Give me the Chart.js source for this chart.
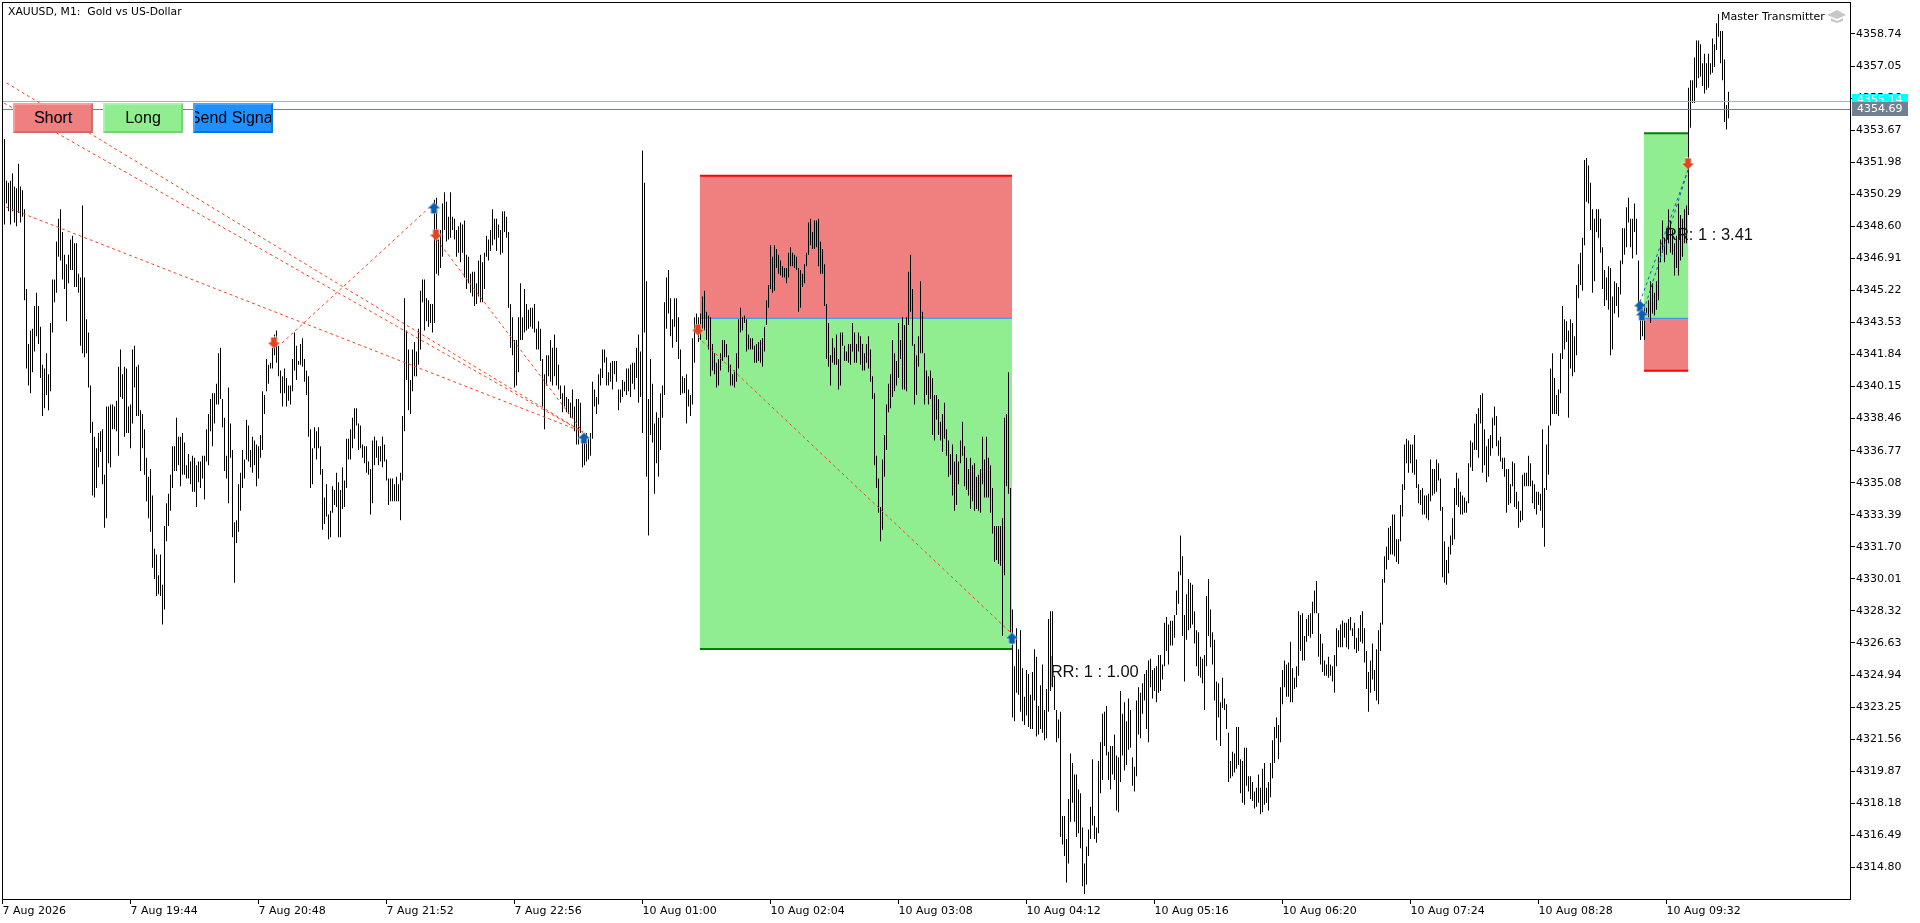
<!DOCTYPE html>
<html lang="en">
<head>
  <meta charset="UTF-8">
  <title>XAUUSD, M1</title>
  <script src="https://cdn.jsdelivr.net/npm/chart.js"></script>
  <style>
    html, body { margin: 0; padding: 0; background: #fff; overflow: hidden; }
    #grafico { position: absolute; left: 0; top: 0; }
    .btn {
      position: absolute; top: 103px; width: 80px; height: 30px; box-sizing: border-box;
      border-style: solid; border-width: 2px; overflow: hidden; white-space: nowrap;
      font: 16px/26px "Liberation Sans", Arial, sans-serif; color: #000;
      display: flex; justify-content: center;
    }
    #btnShort { left: 13px; background: #f08080; border-color: #ff9c9c #d86868 #d86868 #ff9c9c; }
    #btnLong { left: 103px; background: #90ee90; border-color: #a8f4a8 #74d474 #74d474 #a8f4a8; }
    #btnSend { left: 193px; background: #1e90ff; border-color: #4aa6ff #0078e8 #0078e8 #4aa6ff; }
  </style>
</head>
<body>
  <canvas id="grafico" width="1920" height="923"></canvas>
  <div class="btn" id="btnShort">Short</div>
  <div class="btn" id="btnLong">Long</div>
  <div class="btn" id="btnSend">Send Signal</div>

  <script>
    // precios, menos priceBase. un valor por vela M1
    const priceBase = 4300;
    const highs = [
      53.2,51.0,50.9,51.0,51.4,50.7,50.6,51.9,50.7,50.5,
      49.5,45.3,42.4,43.1,43.2,44.4,45.1,44.4,43.3,41.3,
      41.1,41.9,40.8,43.5,45.8,45.8,47.8,49.0,49.5,48.3,
      47.1,46.6,47.1,47.9,48.1,47.7,47.7,46.1,45.9,49.7,
      45.9,43.7,43.0,40.2,38.3,37.5,36.9,37.7,37.8,37.9,
      35.5,39.1,39.1,39.2,39.2,39.1,39.4,41.2,42.1,40.8,
      41.2,41.1,39.1,39.2,42.1,42.3,41.2,41.3,38.9,38.7,
      37.9,36.4,35.4,35.8,34.4,31.6,31.3,30.2,31.3,29.7,
      32.8,34.0,34.5,35.5,37.0,37.0,38.5,37.5,37.5,37.7,
      37.2,36.0,36.6,36.2,36.5,36.4,36.0,36.2,36.2,36.5,
      36.5,37.9,38.7,39.5,39.8,39.8,40.3,41.9,42.2,39.5,
      38.5,36.5,40.1,38.2,36.8,33.0,33.1,35.0,35.6,36.8,
      36.3,38.4,38.1,36.8,37.5,37.3,37.1,37.0,37.6,39.9,
      39.7,41.6,41.3,41.4,42.2,42.9,43.1,42.3,41.0,40.7,
      41.1,40.6,40.2,40.2,41.6,43.0,42.3,41.5,42.4,42.7,
      41.6,41.0,40.7,37.9,36.9,38.0,37.8,38.0,37.0,35.8,
      34.3,35.0,33.4,33.6,34.9,34.7,35.6,35.1,34.7,35.9,
      35.2,37.4,37.4,37.9,38.5,39.0,39.0,38.2,
      38.1,37.1,37.0,37.0,36.2,35.8,37.3,37.5,37.3,37.0,
      37.0,37.5,37.1,36.3,35.3,35.3,35.3,35.0,35.4,35.0,
      35.6,38.6,44.8,43.1,42.1,40.5,42.1,42.5,42.0,43.2,
      45.2,45.8,45.8,44.8,44.7,44.5,44.5,50.0,50.1,47.9,
      48.4,49.8,50.4,49.9,49.1,50.4,49.1,49.0,48.4,48.6,
      48.8,48.7,48.9,47.1,47.0,46.1,46.2,46.2,45.6,46.8,
      47.1,46.7,47.2,48.1,47.9,48.4,49.5,49.0,49.0,48.7,
      48.4,49.4,49.4,49.1,48.3,44.5,43.8,42.6,42.6,43.8,
      45.6,43.8,45.3,44.5,44.2,44.3,44.3,44.5,43.2,43.6,
      43.2,41.6,40.8,41.8,41.8,42.6,42.2,42.9,42.2,41.3,
      40.2,39.8,40.2,39.6,39.5,39.3,40.0,39.1,39.5,39.5,
      39.3,37.2,37.6,37.7,37.4,37.7,40.4,40.0,39.6,40.8,
      41.1,42.1,42.1,41.7,40.9,41.4,41.5,41.5,41.5,40.0,
      40.0,40.5,40.4,41.1,41.1,41.3,41.4,41.4,42.2,42.9,
      42.0,52.6,50.9,45.7,39.5,41.6,40.3,38.2,38.8,38.5,
      39.8,40.2,44.6,45.9,46.3,44.8,43.7,44.8,44.8,43.8,
      42.1,40.7,40.6,40.8,40.0,39.7,42.7,43.8,44.0,43.8,
      44.0,44.9,45.2,44.1,43.9,43.8,42.4,41.9,41.4,41.6,
      41.9,42.6,42.6,42.4,41.8,41.3,40.8,41.0,41.9,43.7,
      44.3,43.8,43.9,43.7,42.9,42.7,42.7,42.3,42.4,42.5,
      42.6,42.7,43.3,44.7,45.5,47.6,47.0,47.6,47.4,47.1,
      46.8,46.5,46.4,46.4,47.2,47.5,47.2,47.1,47.0,46.4,
      46.3,46.1,46.6,47.2,48.8,49.0,48.3,48.9,48.9,49.0,
      47.8,47.4,46.6,44.5,43.5,41.8,42.7,42.2,42.9,41.6,
      43.0,43.0,42.3,42.0,42.4,42.4,43.5,43.0,42.4,43.0,
      42.8,42.4,41.9,42.4,42.8,42.1,40.7,
      39.8,36.5,35.3,33.8,36.3,37.6,39.2,40.3,40.8,42.6,41.9,41.5,43.5,
      42.6,43.8,43.4,43.8,46.2,47.1,45.3,42.4,41.8,42.8,45.7,44.1,41.9,
      41.0,40.7,41.0,40.6,39.7,39.7,39.5,38.3,38.7,39.3,
      37.9,37.3,36.6,37.1,36.2,36.6,36.2,37.3,38.3,37.0,
      36.4,35.8,36.4,36.0,36.1,35.4,35.5,35.8,37.5,36.3,
      37.5,36.4,36.0,34.8,32.8,32.8,32.8,32.8,33.2,38.5,
      38.7,40.9,34.8,
      28.4,25.4,27.4,26.3,27.3,25.3,23.8,25.2,25.0,23.9,
      25.1,26.3,25.9,23.3,24.4,25.5,23.1,24.2,27.9,28.3,
      28.3,24.9,23.1,22.6,23.0,17.5,17.5,16.3,18.4,20.8,
      20.3,19.7,19.7,18.9,18.7,16.9,15.0,15.9,16.8,18.0,
      20.5,17.5,16.9,20.4,21.4,22.9,23.0,23.3,20.9,21.2,
      21.2,21.8,20.7,20.6,24.1,22.9,23.5,22.5,23.7,23.1,
      20.6,20.1,23.6,24.3,24.0,24.5,25.0,25.2,25.7,25.8,
      25.2,25.3,25.4,26.0,26.0,25.5,27.7,28.0,27.6,27.8,
      27.8,28.1,29.4,30.4,32.3,31.2,28.1,29.2,30.0,29.8,
      29.7,28.3,27.3,27.2,25.9,25.8,26.0,29.1,30.0,28.4,
      27.2,26.8,24.6,24.5,23.5,24.8,23.7,23.4,21.9,20.4,
      20.9,20.8,22.2,22.2,20.5,20.4,21.1,21.1,19.6,19.6,
      19.3,18.8,19.0,19.7,19.0,20.0,20.3,19.0,19.3,20.3,
      21.5,22.2,22.7,22.3,24.3,25.2,25.7,25.5,25.6,26.7,
      25.3,24.8,25.4,28.3,28.1,28.2,27.0,27.9,28.1,28.2,
      28.8,29.4,29.9,28.2,27.1,26.6,25.7,25.5,25.9,25.5,
      25.4,26.0,27.4,27.3,27.6,27.8,27.7,27.7,27.9,28.0,
      27.4,27.7,26.9,27.4,28.1,28.3,27.4,26.2,25.1,25.7,
      26.6,25.2,26.3,27.3,27.7,30.0,
      31.2,31.7,32.7,32.8,33.4,33.4,32.1,32.1,33.9,35.0,
      37.1,37.4,37.3,37.1,37.1,37.6,36.3,35.0,34.7,34.8,
      34.4,34.4,34.5,36.3,35.8,35.8,36.3,36.1,35.3,33.8,
      32.0,31.0,31.7,32.3,33.2,34.8,35.6,35.3,34.6,34.4,
      34.3,34.1,36.1,37.3,37.2,38.2,38.7,39.0,39.7,39.8,
      37.9,37.0,37.4,37.6,38.5,39.1,38.6,37.3,37.5,36.4,
      36.4,35.8,35.8,35.0,36.2,36.1,34.6,34.1,33.6,35.5,
      35.6,35.6,36.5,36.1,35.2,35.0,34.6,34.6,34.5,37.9,
      34.8,37.1,38.1,
      41.1,41.9,40.6,39.7,40.0,41.9,44.4,43.7,43.6,43.1,
      43.7,43.5,42.8,45.5,46.6,47.2,48.0,52.1,52.2,51.8,
      50.9,49.5,49.0,49.5,49.5,49.0,47.5,46.3,45.9,46.5,
      46.4,44.9,45.7,45.6,45.4,46.8,48.5,48.5,49.6,50.1,
      49.0,49.0,49.8,49.0,46.8,44.5,44.0,44.5,44.3,44.7,
      45.7,45.6,45.1,45.7,47.0,47.9,48.9,48.0,48.5,49.5,
      48.9,48.4,47.7,48.1,49.8,49.2,49.0,49.5,49.7,
      55.9,
      56.3,56.3,57.5,58.4,58.4,58.2,57.2,57.7,57.2,57.7,
      57.2,58.5,58.2,59.3,59.8,58.9,58.9,57.4,55.0,55.7
    ];
    const lows = [
      48.7,49.8,49.4,48.7,49.4,48.8,48.6,49.3,48.8,49.1,
      44.7,41.1,40.2,39.8,40.9,42.0,42.8,42.4,40.6,38.6,
      39.0,39.7,38.9,39.9,43.0,44.6,45.1,47.0,46.8,45.8,
      45.3,43.6,45.6,46.3,46.3,45.4,45.4,45.1,42.3,41.9,
      41.7,41.9,40.1,37.7,34.4,34.3,34.8,35.9,36.7,35.0,
      32.7,33.2,36.1,35.9,37.9,37.9,37.8,36.5,39.6,39.5,
      37.5,37.7,37.7,36.9,38.2,40.1,38.6,38.6,35.7,36.9,
      35.5,34.1,33.2,32.5,30.6,30.0,29.1,29.2,29.1,27.6,
      28.4,32.0,32.8,33.6,34.8,35.7,35.7,36.0,34.9,35.5,
      35.5,35.3,35.3,35.0,34.6,34.6,33.8,35.1,34.8,35.3,
      34.2,36.2,36.0,37.8,37.0,38.2,39.2,39.2,39.5,38.0,
      35.7,35.3,34.0,36.4,32.2,29.8,31.9,32.5,33.6,34.8,
      35.3,36.3,36.2,35.9,35.6,36.0,34.9,35.3,36.4,36.8,
      38.7,39.9,40.3,41.1,41.1,41.8,41.4,40.7,39.8,39.1,
      39.8,39.1,39.4,39.2,39.9,41.0,40.5,41.3,41.3,41.2,
      40.4,39.7,37.5,34.8,35.0,36.9,36.3,36.9,35.5,32.6,
      32.9,33.3,32.1,32.2,33.5,33.9,33.8,32.2,32.2,33.7,
      33.8,34.8,36.3,36.3,36.9,37.4,38.1,36.8,
      36.9,36.4,36.1,35.6,35.5,33.4,34.0,36.0,36.4,36.0,
      36.2,35.9,36.2,35.2,33.9,34.1,34.1,34.1,34.1,34.1,
      33.1,35.2,37.8,40.5,38.9,38.7,39.9,40.7,40.7,41.3,
      42.1,44.6,43.1,43.6,43.3,43.5,43.0,43.5,46.1,46.0,
      46.4,47.0,48.4,47.8,47.9,48.0,48.4,47.9,47.0,47.2,
      46.7,47.2,45.9,45.3,45.6,45.1,44.9,44.4,44.5,44.9,
      44.6,44.6,45.3,47.0,46.8,47.3,47.6,47.9,47.3,48.0,
      47.1,47.2,48.3,48.0,44.3,42.2,41.8,40.1,40.2,40.9,
      42.6,42.6,43.0,43.1,43.2,43.3,43.2,43.0,42.1,42.1,
      41.5,39.1,37.9,40.2,40.7,40.4,40.2,40.7,40.2,40.0,
      39.5,38.8,39.1,38.8,38.7,38.5,38.5,37.8,37.1,37.1,
      37.7,35.9,36.0,36.2,36.3,36.5,37.4,39.1,38.7,39.2,
      40.2,40.6,41.4,40.2,40.2,40.4,40.0,40.8,40.4,38.9,
      39.3,39.6,39.9,39.7,39.9,39.6,40.3,40.0,40.6,39.3,
      39.6,37.7,43.0,35.4,32.3,37.6,37.2,34.5,36.1,35.4,
      36.8,38.5,39.7,43.2,44.0,42.8,42.2,43.3,42.5,41.6,
      39.7,39.8,39.8,38.2,39.1,38.6,39.2,41.4,43.0,42.5,
      42.6,43.2,43.1,42.6,42.1,40.7,41.0,40.8,40.1,40.2,
      41.0,41.5,41.7,41.7,40.9,40.2,40.2,40.1,40.4,41.1,
      43.0,43.1,43.5,42.0,42.1,42.1,42.1,41.4,41.4,41.5,
      41.4,41.2,42.0,43.4,44.3,45.3,45.1,45.2,46.4,46.1,
      46.0,45.9,45.9,45.6,45.9,46.5,46.5,46.4,46.3,44.1,
      44.3,45.4,45.6,46.5,47.1,47.6,47.4,47.4,47.5,46.5,
      46.1,46.1,44.4,41.6,41.2,40.2,41.4,41.3,41.3,40.0,
      40.2,42.3,41.5,41.5,41.4,41.3,42.0,41.4,41.4,42.0,
      41.3,41.0,41.0,41.4,41.1,40.4,39.5,
      36.0,34.8,33.5,32.0,32.6,35.4,36.8,38.8,39.0,39.6,39.9,40.2,40.6,
      41.6,40.0,40.0,39.9,43.4,44.1,42.3,39.2,39.7,41.2,41.9,41.9,39.2,
      39.7,39.2,39.5,37.6,37.3,38.4,37.6,37.3,36.7,37.4,
      36.5,35.4,35.5,34.4,33.6,33.9,35.0,36.1,36.5,34.9,
      34.7,34.4,33.7,34.1,33.6,33.7,33.6,33.5,35.0,34.3,
      34.3,34.3,33.5,32.4,30.9,31.0,30.8,30.7,27.0,30.2,
      34.9,34.5,27.2,
      22.7,22.5,24.0,23.9,23.0,22.5,22.3,22.8,22.2,22.1,
      22.1,23.6,21.7,21.8,22.1,21.9,21.5,21.6,23.0,24.1,
      24.3,23.1,21.4,21.6,16.4,16.0,15.4,14.0,15.0,17.2,
      18.2,17.2,16.4,16.6,15.8,13.8,13.4,13.9,15.4,16.3,
      17.0,16.3,16.1,16.6,18.7,19.4,21.2,20.7,19.4,18.9,
      19.7,19.4,17.8,17.7,19.3,20.7,19.9,20.2,21.0,21.1,
      19.1,18.8,19.6,21.8,21.6,22.9,23.6,22.1,21.4,24.3,
      23.7,24.1,23.5,24.0,24.1,24.7,25.4,26.2,25.5,26.5,
      26.5,26.9,28.1,28.7,30.2,27.0,24.6,26.8,27.3,27.4,
      27.6,26.6,25.4,24.9,24.8,24.5,23.1,25.4,27.0,26.4,
      25.5,23.6,21.5,22.7,21.2,23.2,23.1,22.1,19.3,19.5,
      19.6,19.8,20.0,20.2,18.7,18.2,18.1,19.1,18.8,18.4,
      18.3,17.9,18.0,18.2,17.6,17.7,18.1,18.2,17.8,18.5,
      19.5,20.3,21.6,20.5,21.4,23.4,24.3,23.8,23.8,23.5,
      23.5,24.2,24.3,24.9,26.2,25.7,25.7,26.7,27.0,26.9,
      27.1,28.2,28.2,25.9,25.5,25.1,24.9,24.9,24.8,24.9,
      24.6,24.0,25.4,26.4,26.4,26.4,26.9,26.4,26.3,27.3,
      27.0,26.3,26.1,26.2,26.7,26.6,25.6,24.2,23.0,24.0,
      24.7,24.1,23.6,23.4,26.2,27.6,
      29.8,30.5,31.0,31.3,31.3,31.2,30.9,30.8,32.0,33.3,
      34.7,36.1,35.6,36.1,35.6,35.5,34.8,34.0,33.9,33.4,
      33.4,33.2,33.1,34.1,34.4,34.5,34.6,35.2,33.6,30.1,
      29.8,29.7,30.3,31.3,31.8,32.1,33.9,33.8,33.4,33.4,
      33.5,33.5,34.0,35.9,35.7,36.8,36.8,36.4,38.2,35.6,
      36.0,35.1,35.4,36.5,36.9,38.1,37.0,36.5,36.2,35.8,
      35.4,33.5,33.9,34.0,34.9,33.8,33.7,32.7,33.0,33.1,
      34.9,34.9,34.9,34.9,34.0,33.7,33.4,33.9,33.6,32.7,
      31.7,34.7,35.5,
      38.1,38.7,38.7,38.7,38.6,39.8,41.6,42.1,42.5,38.5,
      41.1,40.7,40.9,41.8,44.8,45.5,45.2,47.6,49.9,49.8,
      48.4,45.1,45.7,48.3,48.0,47.2,45.3,44.4,44.7,44.2,
      41.8,42.1,44.0,44.4,43.8,45.0,46.6,47.1,47.5,48.8,
      47.5,46.9,48.3,47.1,44.5,42.6,42.8,42.6,44.0,43.8,
      43.5,44.0,43.9,44.2,44.7,46.7,47.2,46.7,47.1,47.7,
      47.2,47.1,46.0,46.4,46.0,46.8,47.0,47.7,47.7,
      49.2,
      53.8,55.1,55.1,55.9,56.4,56.5,56.0,55.6,55.8,55.9,
      56.6,56.7,57.0,57.9,58.6,57.2,56.3,54.1,53.7,54.3
    ];
    // eje Y y eje X
    const yTickValues = [4358.74,4357.05,4355.36,4353.67,4351.98,4350.29,4348.60,4346.91,4345.22,4343.53,4341.84,4340.15,4338.46,4336.77,4335.08,4333.39,4331.70,4330.01,4328.32,4326.63,4324.94,4323.25,4321.56,4319.87,4318.18,4316.49,4314.80];
    const xTickIndex = [-1,63,127,191,255,319,383,447,511,575,639,703,767,831];
    const xTickLabels = ['7 Aug 2026','7 Aug 19:44','7 Aug 20:48','7 Aug 21:52','7 Aug 22:56','10 Aug 01:00','10 Aug 02:04','10 Aug 03:08','10 Aug 04:12','10 Aug 05:16','10 Aug 06:20','10 Aug 07:24','10 Aug 08:28','10 Aug 09:32'];
    // lineas de precio
    const askPrice = 4355.18, bidPrice = 4354.76;
    // zonas de operacion: inicio, fin (indice de vela) y precios
    const zoneStart = [347.75, 819.75];
    const zoneEnd = [503.75, 841.9];
    const zoneEntry = [4343.75, 4343.75];
    const zoneRedEdge = [4351.27, 4340.99];
    const zoneGreenEdge = [4326.31, 4353.50];
    // zona minima junto a RR 1 : 1.00
    const tinyZoneX = [523.5];
    const tinyZoneLow = [4324.32];
    const tinyZoneHigh = [4325.94];
    // lineas punteadas entre operaciones
    const redFromX = [1, -0.25, 0.75, 138.75, 216.25, 346.75];
    const redFromY = [4356.16, 4355.10, 4349.62, 4342.45, 4347.88, 4342.76];
    const redToX = [289.25, 289.25, 289.25, 213.75, 289.25, 502.75];
    const redToY = [4337.75, 4337.75, 4337.75, 4349.72, 4337.75, 4327.21];
    const blueFromX = [817.75, 819.75];
    const blueFromY = [4344.61, 4344.19];
    const blueToX = [841.75, 841.75];
    const blueToY = [4351.57, 4351.57];
    // flechas
    const buyX = [214.75, 289.75, 503.75, 817.75, 818.75];
    const buyY = [4349.57, 4337.44, 4326.89, 4344.40, 4343.93];
    const sellX = [134.75, 215.75, 346.75, 841.75];
    const sellY = [4342.45, 4348.14, 4343.13, 4351.89];
    // etiquetas RR
    const rrTexts = ['RR: 1 : 1.00', 'RR: 1 : 3.41'];
    const rrX = [523.1, 830.25];
    const rrY = [4325.05, 4348.14];

    const monoFont = '"DejaVu Sans", sans-serif';

    function arrowImage(color, up) {
      const c = document.createElement('canvas');
      c.width = 15; c.height = 13;
      const g = c.getContext('2d');
      g.translate(0, up ? 0 : 13);
      g.scale(1, up ? 1 : -1);
      g.beginPath();
      g.moveTo(7.5, 1); g.lineTo(13.5, 7); g.lineTo(10.5, 7); g.lineTo(10.5, 12);
      g.lineTo(4.5, 12); g.lineTo(4.5, 7); g.lineTo(1.5, 7); g.closePath();
      g.strokeStyle = '#fff'; g.lineWidth = 1; g.stroke();
      g.fillStyle = color; g.fill();
      return c;
    }

    function segment(x1, y1, x2, y2, color, width, dash) {
      return {
        type: 'line', data: [{x: x1, y: y1}, {x: x2, y: y2}],
        borderColor: color, borderWidth: width, borderDash: dash || [],
        pointRadius: 0, fill: false, tension: 0, order: 3
      };
    }

    const datasets = [];

    // velas como barras flotantes
    datasets.push({
      type: 'bar',
      data: highs.map((h, i) => ({x: i, y: [priceBase + lows[i], priceBase + h]})),
      backgroundColor: '#000', barThickness: 1, borderWidth: 0, inflateAmount: 0, order: 5
    });
    datasets.push({
      type: 'bar',
      data: tinyZoneX.map((x, i) => ({x: x, y: [tinyZoneLow[i], tinyZoneHigh[i]]})),
      backgroundColor: '#f08080', barThickness: 1, borderWidth: 0, inflateAmount: 0, grouped: false, order: 4
    });

    zoneStart.forEach((x0, i) => {
      const x1 = zoneEnd[i];
      datasets.push({
        type: 'line', data: [{x: x0, y: zoneRedEdge[i]}, {x: x1, y: zoneRedEdge[i]}],
        borderColor: '#ff0000', borderWidth: 2, pointRadius: 0,
        backgroundColor: '#f08080', fill: {value: zoneEntry[i]}, order: 10
      });
      datasets.push({
        type: 'line', data: [{x: x0, y: zoneGreenEdge[i]}, {x: x1, y: zoneGreenEdge[i]}],
        borderColor: '#008000', borderWidth: 2, pointRadius: 0,
        backgroundColor: '#90ee90', fill: {value: zoneEntry[i]}, order: 10
      });
      datasets.push(Object.assign(segment(x0, zoneEntry[i], x1, zoneEntry[i], '#1e90ff', 1), {order: 9}));
    });

    redFromX.forEach((x, i) => datasets.push(segment(x, redFromY[i], redToX[i], redToY[i], '#f0451e', 1, [3, 3])));
    blueFromX.forEach((x, i) => datasets.push(segment(x, blueFromY[i], blueToX[i], blueToY[i], '#0a64b4', 1, [3, 3])));

    datasets.push(segment(-1.25, askPrice, 922.75, askPrice, '#33e6e6', 1));
    datasets.push(segment(-1.25, bidPrice, 922.75, bidPrice, '#708090', 1));

    datasets.push({
      type: 'scatter', data: buyX.map((x, i) => ({x: x, y: buyY[i]})), showLine: false,
      pointStyle: arrowImage('#0a5fb0', true), order: 1
    });
    datasets.push({
      type: 'scatter', data: sellX.map((x, i) => ({x: x, y: sellY[i]})), showLine: false,
      pointStyle: arrowImage('#e2421c', false), order: 1
    });

    // marco, textos y cajas de precio
    const overlay = {
      id: 'overlay',
      afterDatasetsDraw(chart) {
        const g = chart.ctx, sx = chart.scales.x, sy = chart.scales.y;
        g.save();
        g.font = '16.5px "Liberation Sans", Arial, sans-serif';
        g.fillStyle = '#111';
        g.textAlign = 'left'; g.textBaseline = 'middle';
        rrTexts.forEach((t, i) => g.fillText(t, sx.getPixelForValue(rrX[i]), sy.getPixelForValue(rrY[i])));
        g.restore();
      },
      afterDraw(chart) {
        const g = chart.ctx, a = chart.chartArea;
        g.save();
        g.fillStyle = '#000';
        g.fillRect(a.left, a.top, a.right - a.left + 1, 1);
        g.fillRect(a.left, a.bottom, a.right - a.left + 1, 1);
        g.fillRect(a.left, a.top, 1, a.bottom - a.top);
        g.fillRect(a.right, a.top, 1, a.bottom - a.top);

        g.textBaseline = 'middle'; g.textAlign = 'left';
        g.font = '10.8px ' + monoFont;
        g.fillText('XAUUSD, M1:  Gold vs US-Dollar', 8, 12.5);
        g.font = '11px ' + monoFont;
        g.fillText('Master Transmitter', 1721, 17);

        // gorro de graduacion
        g.fillStyle = '#c4c8c8';
        g.beginPath();
        g.moveTo(1827, 15); g.lineTo(1837, 10); g.lineTo(1846, 15); g.lineTo(1837, 19); g.closePath(); g.fill();
        g.beginPath();
        g.moveTo(1831, 18); g.lineTo(1837, 21); g.lineTo(1843, 18); g.lineTo(1843, 21); g.lineTo(1837, 23); g.lineTo(1831, 21); g.closePath(); g.fill();

        // cajas de ask y bid
        g.fillStyle = '#00ffff'; g.fillRect(1852, 94, 56, 10);
        g.fillStyle = '#fff'; g.fillText('4355.14', 1857, 100);
        g.fillStyle = '#708090'; g.fillRect(1852, 102, 56, 14);
        g.fillStyle = '#fff'; g.fillText('4354.69', 1857, 109.5);
        g.restore();
      }
    };

    new Chart(document.getElementById('grafico').getContext('2d'), {
      type: 'bar',
      data: {datasets: datasets},
      plugins: [overlay],
      options: {
        responsive: false,
        animation: false,
        devicePixelRatio: 1,
        layout: {autoPadding: false, padding: {left: 2, top: 2, right: 0, bottom: 0}},
        plugins: {legend: {display: false}, tooltip: {enabled: false}, title: {display: false}},
        scales: {
          x: {
            type: 'linear', min: -1.25, max: 922.75, offset: false,
            grid: {offset: false, drawOnChartArea: false, tickLength: 5, tickColor: '#000', tickWidth: 1},
            border: {color: '#000'},
            afterBuildTicks: ax => { ax.ticks = xTickIndex.map(v => ({value: v})); },
            afterFit: ax => { ax.height = 24; ax.paddingLeft = 0; ax.paddingRight = 0; },
            ticks: {
              autoSkip: false, maxRotation: 0, minRotation: 0, align: 'start', padding: 1,
              color: '#000', font: {family: monoFont, size: 11},
              callback: v => xTickLabels[xTickIndex.indexOf(v)]
            }
          },
          y: {
            type: 'linear', position: 'right', min: 4313.13, max: 4360.427,
            grid: {drawOnChartArea: false, tickLength: 5, tickColor: '#000', tickWidth: 1},
            border: {color: '#000'},
            afterBuildTicks: ax => { ax.ticks = yTickValues.map(v => ({value: v})); },
            afterFit: ax => { ax.width = 70; ax.paddingTop = 0; ax.paddingBottom = 0; },
            ticks: {
              autoSkip: false, padding: 1, color: '#000', font: {family: monoFont, size: 11},
              callback: v => v.toFixed(2)
            }
          }
        }
      }
    });
  </script>
</body>
</html>
